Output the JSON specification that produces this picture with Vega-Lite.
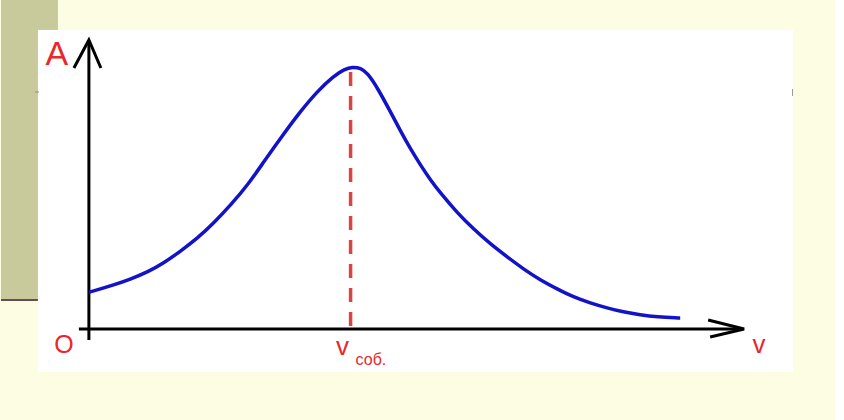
{
  "$schema": "https://vega.github.io/schema/vega-lite/v6.json",
  "width": 844,
  "height": 420,
  "autosize": {"type": "fit", "contains": "padding"},
  "padding": 0,
  "background": "#FCFDE2",
  "config": {"view": {"stroke": null}},
  "datasets": {
    "one": [{"k": 1}],
    "curve": [
      {"nu": 88, "A": 292}, {"nu": 89, "A": 292}, {"nu": 113, "A": 285}, {"nu": 130, "A": 279}, {"nu": 147, "A": 272},
      {"nu": 163, "A": 263}, {"nu": 180, "A": 251}, {"nu": 197, "A": 238}, {"nu": 213, "A": 223},
      {"nu": 230, "A": 205}, {"nu": 247, "A": 185}, {"nu": 263, "A": 162}, {"nu": 280, "A": 138},
      {"nu": 300, "A": 111}, {"nu": 317, "A": 91}, {"nu": 333, "A": 76}, {"nu": 344, "A": 69},
      {"nu": 352, "A": 67}, {"nu": 360, "A": 68}, {"nu": 367, "A": 73}, {"nu": 377, "A": 88}, {"nu": 390, "A": 112},
      {"nu": 400, "A": 131}, {"nu": 410, "A": 149}, {"nu": 420, "A": 165}, {"nu": 430, "A": 180},
      {"nu": 440, "A": 193}, {"nu": 457, "A": 213}, {"nu": 473, "A": 229}, {"nu": 490, "A": 244},
      {"nu": 507, "A": 257}, {"nu": 523, "A": 269}, {"nu": 540, "A": 280}, {"nu": 557, "A": 289},
      {"nu": 573, "A": 297}, {"nu": 590, "A": 303}, {"nu": 607, "A": 308}, {"nu": 623, "A": 312},
      {"nu": 640, "A": 315}, {"nu": 657, "A": 317}, {"nu": 678, "A": 318}, {"nu": 680, "A": 318}
    ],
    "yArrow": [{"x": 73, "y": 68, "o": 1}, {"x": 88, "y": 40, "o": 2}, {"x": 100, "y": 68, "o": 3}],
    "xArrow": [{"x": 708, "y": 320, "o": 1}, {"x": 744, "y": 329, "o": 2}, {"x": 710, "y": 337, "o": 3}],
    "labels": [
      {"x": 56, "y": 65, "t": "A", "s": "big"},
      {"x": 63, "y": 353, "t": "O", "s": "mid"},
      {"x": 759, "y": 353, "t": "v", "s": "v"},
      {"x": 342, "y": 355, "t": "v", "s": "v"}
    ]
  },
  "encoding": {
    "x": {"type": "quantitative", "scale": {"domain": [0, 844], "nice": false, "zero": false}, "axis": null},
    "y": {"type": "quantitative", "scale": {"domain": [0, 420], "reverse": true, "nice": false, "zero": false}, "axis": null}
  },
  "layer": [
    {"data": {"name": "one"}, "mark": {"type": "rect", "fill": "#C9CA9C"}, "encoding": {"x": {"datum": 0}, "x2": {"datum": 57}, "y": {"datum": 0}, "y2": {"datum": 300}}},
    {"data": {"name": "one"}, "mark": {"type": "rect", "fill": "#FFFFFF"}, "encoding": {"x": {"datum": 835}, "x2": {"datum": 844}, "y": {"datum": 0}, "y2": {"datum": 420}}},
    {"data": {"name": "one"}, "mark": {"type": "rule", "stroke": "#6A4C4C", "strokeWidth": 2}, "encoding": {"x": {"datum": 0}, "x2": {"datum": 37}, "y": {"datum": 300}}},
    {"data": {"name": "one"}, "mark": {"type": "rect", "fill": "#FFFFFF"}, "encoding": {"x": {"datum": 37}, "x2": {"datum": 793}, "y": {"datum": 30}, "y2": {"datum": 372}}},
    {"data": {"name": "one"}, "mark": {"type": "rule", "stroke": "#888888", "strokeWidth": 1}, "encoding": {"x": {"datum": 34}, "x2": {"datum": 38}, "y": {"datum": 92}}},
    {"data": {"name": "one"}, "mark": {"type": "rule", "stroke": "#999999", "strokeWidth": 1}, "encoding": {"x": {"datum": 792.5}, "y": {"datum": 89}, "y2": {"datum": 96}}},
    {"data": {"name": "one"}, "mark": {"type": "rule", "stroke": "#000000", "strokeWidth": 3}, "encoding": {"x": {"datum": 88}, "y": {"datum": 41}, "y2": {"datum": 340}}},
    {"data": {"name": "one"}, "mark": {"type": "rule", "stroke": "#000000", "strokeWidth": 3}, "encoding": {"x": {"datum": 78}, "x2": {"datum": 743}, "y": {"datum": 329}}},
    {"data": {"name": "yArrow"}, "mark": {"type": "line", "stroke": "#000000", "strokeWidth": 3, "strokeJoin": "miter"}, "encoding": {"x": {"field": "x", "type": "quantitative"}, "y": {"field": "y", "type": "quantitative"}, "order": {"field": "o"}}},
    {"data": {"name": "xArrow"}, "mark": {"type": "line", "stroke": "#000000", "strokeWidth": 3, "strokeJoin": "miter"}, "encoding": {"x": {"field": "x", "type": "quantitative"}, "y": {"field": "y", "type": "quantitative"}, "order": {"field": "o"}}},
    {"data": {"name": "one"}, "mark": {"type": "rule", "stroke": "#DC4444", "strokeWidth": 3.5, "strokeDash": [14, 10]}, "encoding": {"x": {"datum": 350}, "y": {"datum": 72}, "y2": {"datum": 329}}},
    {"data": {"name": "curve"}, "mark": {"type": "line", "stroke": "#1212C8", "strokeWidth": 3.5, "interpolate": "basis"}, "encoding": {"x": {"field": "nu", "type": "quantitative"}, "y": {"field": "A", "type": "quantitative"}}},
    {"data": {"name": "labels"}, "transform": [{"filter": "datum.s == 'big'"}], "mark": {"type": "text", "color": "#E8282E", "fontSize": 34, "font": "Liberation Sans", "align": "center", "baseline": "alphabetic"}, "encoding": {"x": {"field": "x", "type": "quantitative"}, "y": {"field": "y", "type": "quantitative"}, "text": {"field": "t"}}},
    {"data": {"name": "labels"}, "transform": [{"filter": "datum.s == 'mid'"}], "mark": {"type": "text", "color": "#E8282E", "fontSize": 25, "font": "Liberation Sans", "align": "center", "baseline": "alphabetic"}, "encoding": {"x": {"field": "x", "type": "quantitative"}, "y": {"field": "y", "type": "quantitative"}, "text": {"field": "t"}}},
    {"data": {"name": "labels"}, "transform": [{"filter": "datum.s == 'v'"}], "mark": {"type": "text", "color": "#E8282E", "fontSize": 26, "font": "Liberation Sans", "align": "center", "baseline": "alphabetic"}, "encoding": {"x": {"field": "x", "type": "quantitative"}, "y": {"field": "y", "type": "quantitative"}, "text": {"field": "t"}}},
    {"data": {"name": "one"}, "mark": {"type": "text", "color": "#E8282E", "fontSize": 16, "font": "Liberation Sans", "align": "left", "baseline": "alphabetic", "text": "соб."}, "encoding": {"x": {"datum": 355}, "y": {"datum": 365}}}
  ]
}
